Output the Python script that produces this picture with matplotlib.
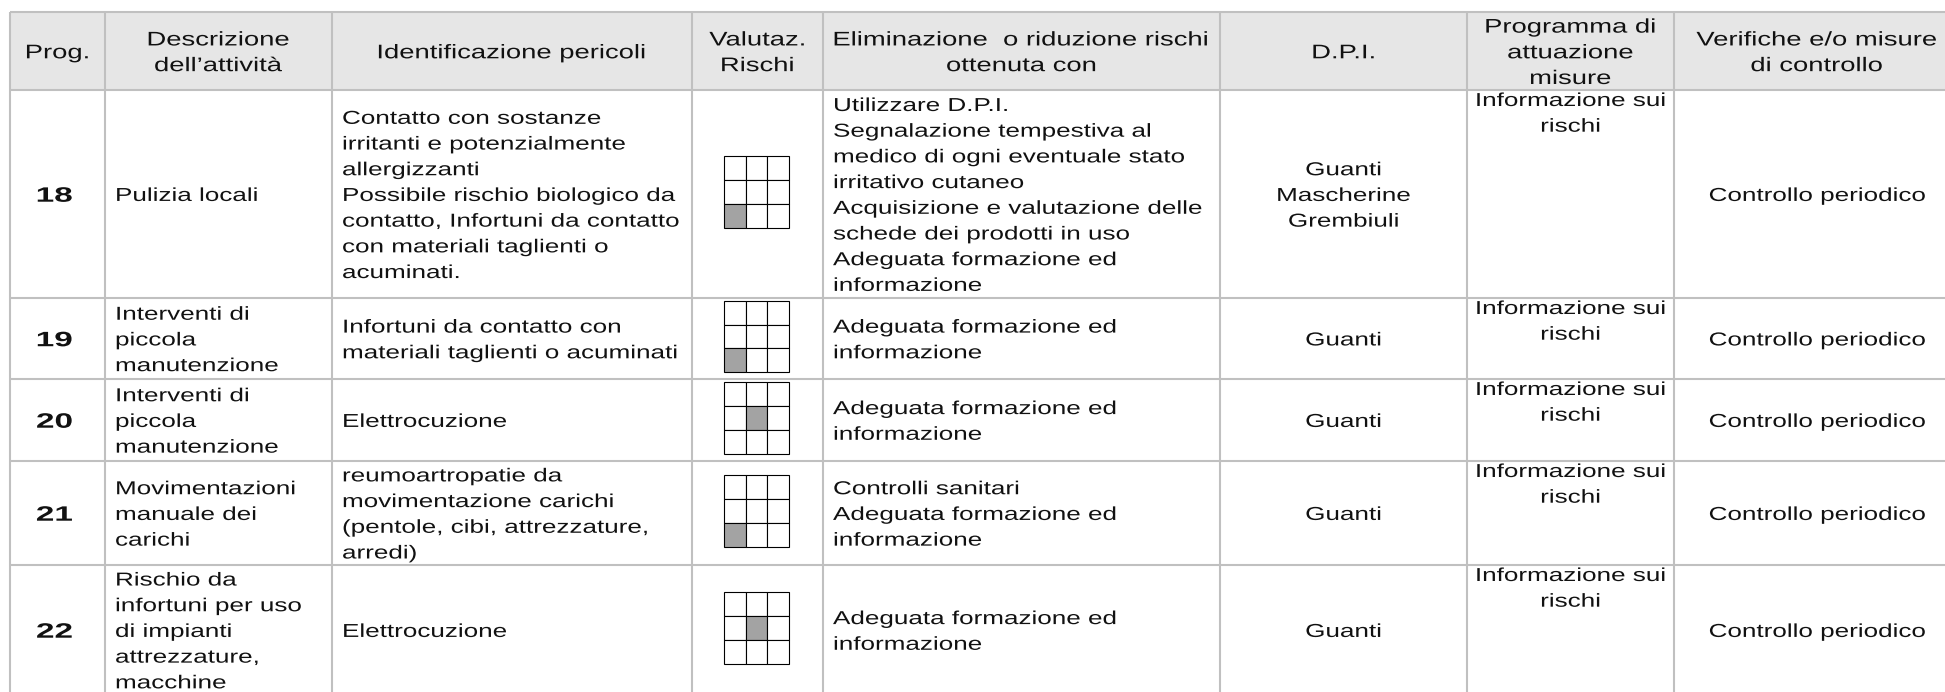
import matplotlib
matplotlib.use("Agg")
import matplotlib.pyplot as plt
from matplotlib.patches import Rectangle
from matplotlib.patheffects import AbstractPathEffect
from matplotlib.transforms import Affine2D

plt.rcParams["font.family"] = ["Liberation Sans", "DejaVu Sans"]

# Contenuto della tabella
intestazioni = [
    ["Prog."],
    ["Descrizione", "dell’attività"],
    ["Identificazione pericoli"],
    ["Valutaz.", "Rischi"],
    ["Eliminazione  o riduzione rischi", "ottenuta con"],
    ["D.P.I."],
    ["Programma di", "attuazione", "misure"],
    ["Verifiche e/o misure", "di controllo"],
]
progressivi = ["18", "19", "20", "21", "22"]
descrizioni = [
    ["Pulizia locali"],
    ["Interventi di", "piccola", "manutenzione"],
    ["Interventi di", "piccola", "manutenzione"],
    ["Movimentazioni", "manuale dei", "carichi"],
    ["Rischio da", "infortuni per uso", "di impianti", "attrezzature,", "macchine"],
]
pericoli = [
    ["Contatto con sostanze", "irritanti e potenzialmente", "allergizzanti",
     "Possibile rischio biologico da", "contatto, Infortuni da contatto",
     "con materiali taglienti o", "acuminati."],
    ["Infortuni da contatto con", "materiali taglienti o acuminati"],
    ["Elettrocuzione"],
    ["reumoartropatie da", "movimentazione carichi",
     "(pentole, cibi, attrezzature,", "arredi)"],
    ["Elettrocuzione"],
]
# cella evidenziata nella matrice 3x3 (riga, colonna), contate da 1 in alto a sinistra
valutazioni = [(3, 1), (3, 1), (2, 2), (3, 1), (2, 2)]
eliminazioni = [
    ["Utilizzare D.P.I.", "Segnalazione tempestiva al", "medico di ogni eventuale stato",
     "irritativo cutaneo", "Acquisizione e valutazione delle",
     "schede dei prodotti in uso", "Adeguata formazione ed", "informazione"],
    ["Adeguata formazione ed", "informazione"],
    ["Adeguata formazione ed", "informazione"],
    ["Controlli sanitari", "Adeguata formazione ed", "informazione"],
    ["Adeguata formazione ed", "informazione"],
]
dpi_usati = [["Guanti", "Mascherine", "Grembiuli"], ["Guanti"], ["Guanti"], ["Guanti"], ["Guanti"]]
programmi = [["Informazione sui", "rischi"]] * 5
verifiche = [["Controllo periodico"]] * 5

# Impaginazione in pixel
colonne = [10, 105, 332, 692, 823, 1220, 1467, 1674, 1960]
righe = [12, 90, 298, 379, 461, 565, 695]
INTERLINEA = 25.7
CORPO = 13.5
CORPO_TITOLI = 14.2
ALLARGA = 1.39
GRIGIO_BORDO = "#c0c0c0"


class Allarga(AbstractPathEffect):
    # allarga orizzontalmente il testo (il documento originale e' stirato)
    def __init__(self, fattore, centro=False):
        super().__init__()
        self.fattore = fattore
        self.centro = centro

    def draw_path(self, renderer, gc, tpath, affine, rgbFace=None):
        c = 0.0
        if self.centro and len(tpath.vertices):
            v = tpath.vertices
            if tpath.codes is not None:
                v = v[tpath.codes != 79]
            c = (v[:, 0].min() + v[:, 0].max()) / 2
        t = Affine2D().translate(-c, 0).scale(self.fattore, 1).translate(c, 0) + affine
        renderer.draw_path(gc, tpath, t, rgbFace)


fig = plt.figure(figsize=(19.45, 6.92), dpi=100)
ax = fig.add_axes([0, 0, 1, 1])
ax.set_xlim(0, 1945)
ax.set_ylim(692, 0)
ax.axis("off")


def scrivi(x, y, linee, ha="left", alto=False, size=CORPO, weight="normal", allarga=ALLARGA):
    n = len(linee)
    for i, t in enumerate(linee):
        if alto:
            yb = y + 16 + i * INTERLINEA
        else:
            yb = y + (i - (n - 1) / 2) * INTERLINEA + 0.37 * size * 100 / 72
        ax.text(x, yb, t, ha=ha, va="baseline", fontsize=size, weight=weight,
                color="#111111", path_effects=[Allarga(allarga, ha == "center")])


def matrice(cx, cy, cella):
    w, h = 21.7, 23.7
    x0, y0 = cx - 1.5 * w, cy - 1.5 * h
    for r in range(3):
        for c in range(3):
            piena = (r + 1, c + 1) == cella
            ax.add_patch(Rectangle((x0 + c * w, y0 + r * h), w, h,
                                   facecolor="#a3a3a3" if piena else "white",
                                   edgecolor="black", lw=0.8, zorder=3))


# sfondo intestazione
ax.add_patch(Rectangle((colonne[0], righe[0]), colonne[-1] - colonne[0], righe[1] - righe[0],
                       facecolor="#e6e6e6", edgecolor="none", zorder=0))

centri = [(colonne[i] + colonne[i + 1]) / 2 for i in range(len(colonne) - 1)]
for j, testo in enumerate(intestazioni):
    scrivi(centri[j], (righe[0] + righe[1]) / 2, testo, ha="center", size=CORPO_TITOLI)

PAD = 10
for i in range(len(progressivi)):
    top, bot = righe[i + 1], righe[i + 2]
    yc = (top + bot) / 2
    scrivi(centri[0] - 3, yc, [progressivi[i]], ha="center", size=15, weight="bold", allarga=1.6)
    scrivi(colonne[1] + PAD, yc, descrizioni[i])
    scrivi(colonne[2] + PAD, yc, pericoli[i])
    matrice(centri[3] - 1, yc - 2, valutazioni[i])
    scrivi(colonne[4] + PAD, yc, eliminazioni[i])
    scrivi(centri[5], yc, dpi_usati[i], ha="center")
    scrivi(centri[6], top, programmi[i], ha="center", alto=True)
    scrivi(centri[7], yc, verifiche[i], ha="center")

# bordi
ax.vlines(colonne, righe[0], righe[-1], colors=GRIGIO_BORDO, lw=1.5, zorder=2)
ax.hlines(righe, colonne[0], colonne[-1], colors=GRIGIO_BORDO, lw=1.5, zorder=2)

fig.savefig("out.png", dpi=100)
